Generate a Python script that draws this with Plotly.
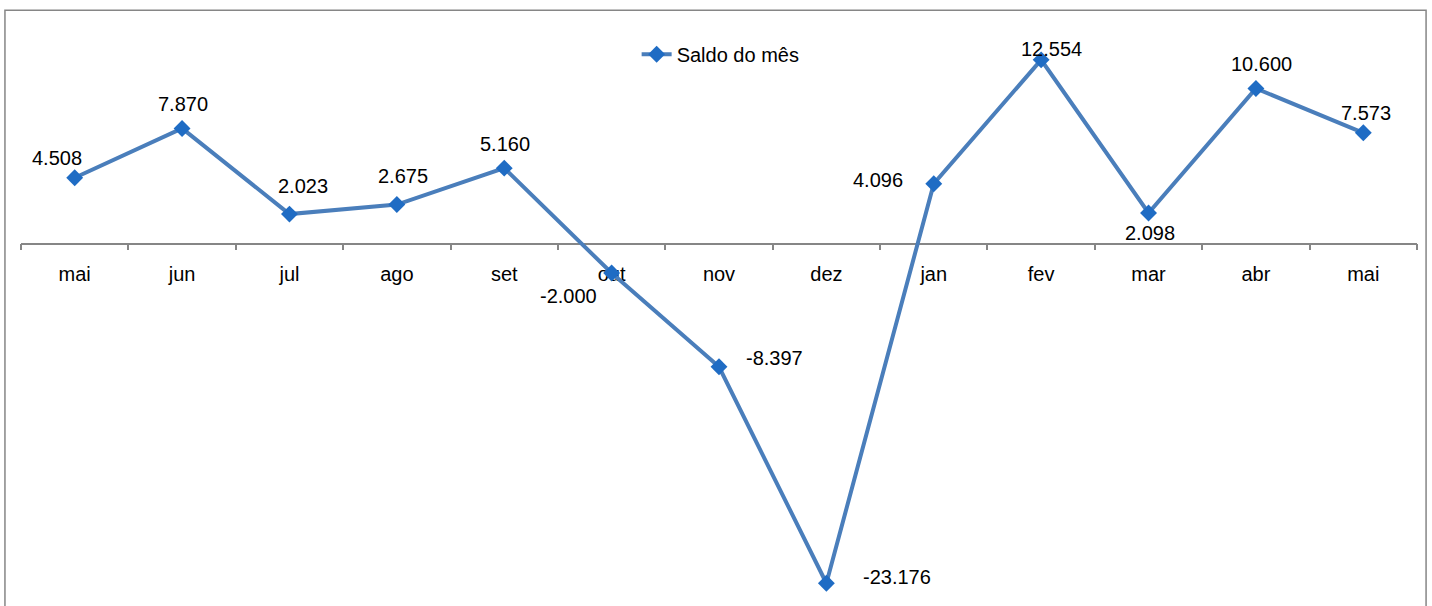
import plotly.graph_objects as go

months = ["mai", "jun", "jul", "ago", "set", "out", "nov", "dez", "jan", "fev", "mar", "abr", "mai"]
saldo = [4508, 7870, 2023, 2675, 5160, -2000, -8397, -23176, 4096, 12554, 2098, 10600, 7573]
series_name = "Saldo do mês"

# label offsets (pixels) to mimic the manual placement of the data labels
label_dx = [-18, 1, 14, 6, 1, -43, 55, 71, -56, 10, 1, 6, 3]
label_dy = [20, 24, 28, 29, 24, -23, 9, 6, 4, 11, -20, 24, 20]

LINE = "#4A7EBB"
MARK = "#1F6CC4"
GRAY = "#868686"
FONT = "Liberation Sans, Arial, sans-serif"

xs = list(range(len(months)))

fig = go.Figure()
fig.add_trace(go.Scatter(
    x=xs, y=saldo, name=series_name, mode="lines+markers",
    line=dict(color=LINE, width=4),
    marker=dict(symbol="diamond", size=13, color=MARK),
    showlegend=True,
))

def fmt(v):
    return f"{v:,}".replace(",", ".")

for i, v in enumerate(saldo):
    fig.add_annotation(x=xs[i], y=v, text=fmt(v), showarrow=False,
                       xshift=label_dx[i], yshift=label_dy[i],
                       font=dict(family=FONT, size=20, color="#000000"))

ymin, ymax = -24730, 15000
fig.update_layout(
    width=1432, height=606,
    margin=dict(l=21, r=15, t=24, b=0),
    paper_bgcolor="white", plot_bgcolor="white",
    font=dict(family=FONT, size=20, color="#000000"),
    xaxis=dict(
        range=[-0.5, len(months) - 0.5],
        tickmode="array", tickvals=xs, ticktext=months,
        ticks="", showline=True, linecolor=GRAY, linewidth=1.5,
        showgrid=False, zeroline=False,
        anchor="free", position=(0 - ymin) / (ymax - ymin),
        layer="below traces",
        ticklabelstandoff=13,
        tickfont=dict(family=FONT, size=20, color="#000000"),
        minor=dict(tickmode="linear", tick0=-0.5, dtick=1, ticks="outside",
                   ticklen=6, tickcolor=GRAY, tickwidth=1.5, showgrid=False),
        fixedrange=True,
    ),
    yaxis=dict(range=[ymin, ymax], visible=False, showgrid=False, zeroline=False),
    legend=dict(x=0.441, y=0.948, xanchor="left", yanchor="middle",
                bgcolor="rgba(0,0,0,0)", font=dict(family=FONT, size=20)),
    shapes=[dict(type="rect", xref="paper", yref="paper",
                 x0=-0.0115, x1=1.0065, y0=-0.1, y1=1.0235,
                 line=dict(color=GRAY, width=1.5), fillcolor="rgba(0,0,0,0)",
                 layer="below")],
)

fig.write_html("out.html")
